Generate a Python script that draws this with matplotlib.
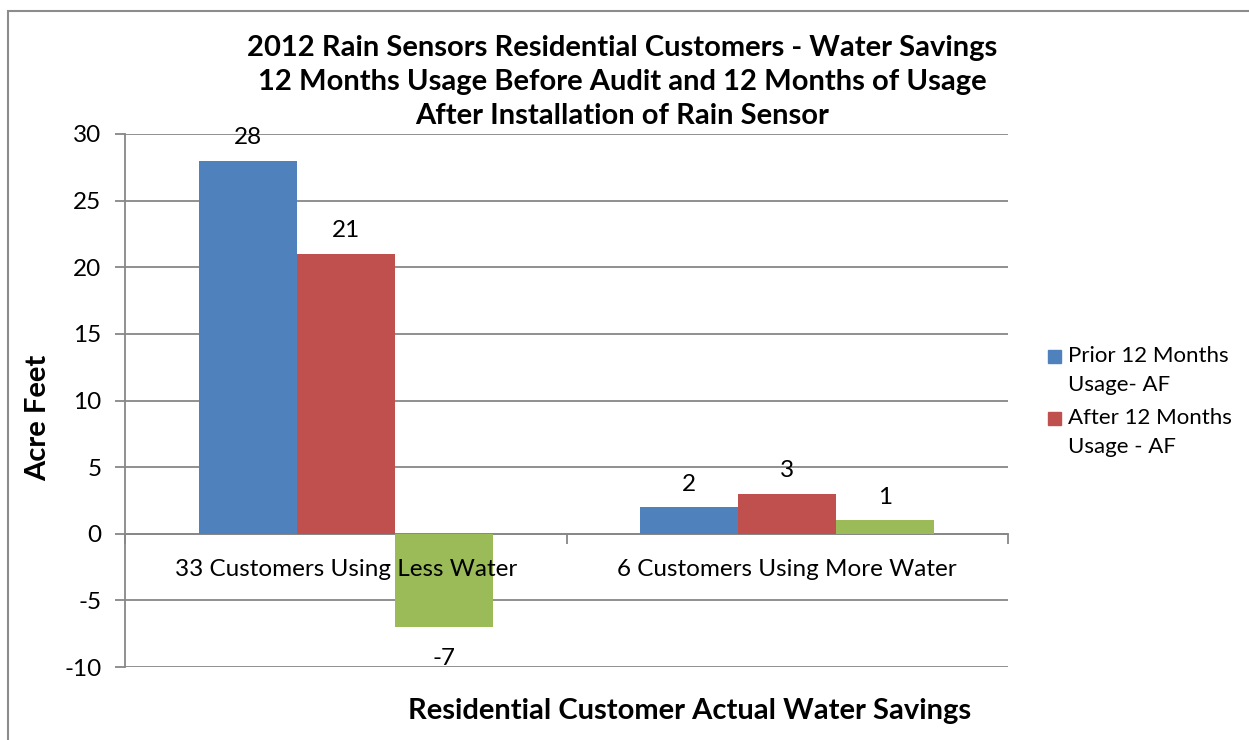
import matplotlib.pyplot as plt
from matplotlib.patches import Rectangle

plt.rcParams['font.family'] = ['Lato', 'DejaVu Sans']

categories = ['33 Customers Using Less Water', '6 Customers Using More Water']
prior_usage = [28, 2]
after_usage = [21, 3]
difference = [-7, 1]
series_names = ['Prior 12 Months\nUsage- AF', 'After 12 Months\nUsage - AF', 'Difference']
colors = ['#4F81BD', '#C0504D', '#9BBB59']
y_ticks = [-10, -5, 0, 5, 10, 15, 20, 25, 30]

W, H = 1249, 740
fig = plt.figure(figsize=(W / 100, H / 100), dpi=100)
ax = fig.add_axes([125 / W, 1 - 667 / H, (1008 - 125) / W, (667 - 134) / H])

# outer chart frame
fig.patches.append(Rectangle((8 / W, -0.05), 1.1, 1 - 11 / H + 0.05, transform=fig.transFigure,
                             fill=False, edgecolor='#8c8c8c', linewidth=1.5))

grid_c = '#878787'
bar_w = 0.222
offsets = [-bar_w, 0, bar_w]
for vals, off, c, name in zip([prior_usage, after_usage, difference], offsets, colors, series_names):
    xs = [i + off for i in range(len(categories))]
    ax.bar(xs, vals, width=bar_w, color=c, label=name, zorder=3)
    for x, v in zip(xs, vals):
        if v >= 0:
            ax.annotate(str(v), (x, v), xytext=(0, 9), textcoords='offset points',
                        ha='center', va='bottom', fontsize=17.5)
        else:
            ax.annotate(str(v), (x, v), xytext=(0, -15), textcoords='offset points',
                        ha='center', va='top', fontsize=17.5)

ax.set_xlim(-0.5, 1.5)
ax.set_ylim(-10, 30)
ax.set_yticks(y_ticks)
ax.set_yticklabels([str(t) for t in y_ticks], fontsize=17.5)
ax.yaxis.grid(True, color=grid_c, linewidth=1.3, zorder=0)
ax.tick_params(axis='y', length=7, width=1.3, color=grid_c, pad=10)

for s in ['top', 'right']:
    ax.spines[s].set_visible(False)
ax.spines['left'].set_color(grid_c)
ax.spines['left'].set_linewidth(1.3)
ax.spines['bottom'].set_position(('data', 0))
ax.spines['bottom'].set_color(grid_c)
ax.spines['bottom'].set_linewidth(1.3)
ax.set_xticks([-0.5, 0.5, 1.5])
ax.set_xticklabels([])
ax.tick_params(axis='x', length=7, width=1.3, color=grid_c)

for i, cat in enumerate(categories):
    ax.annotate(cat, (i, 0), xytext=(0, -26), textcoords='offset points',
                ha='center', va='center', fontsize=17.5, zorder=4)

fig.text(38 / W, 1 - 418 / H, 'Acre Feet', rotation=90,
         ha='center', va='center', fontsize=21, fontweight='bold')
fig.text(690 / W, 1 - 711 / H, 'Residential Customer Actual Water Savings',
         ha='center', va='center', fontsize=21, fontweight='bold')

fig.text(622 / W, 1 - 82 / H,
         '2012 Rain Sensors Residential Customers - Water Savings\n'
         '12 Months Usage Before Audit and 12 Months of Usage\n'
         'After Installation of Rain Sensor',
         ha='center', va='center', fontsize=21, fontweight='bold', linespacing=1.4)

# legend (only the first two series are listed), swatch aligned with first text line
for k, y_px in enumerate([356, 418]):
    fig.patches.append(Rectangle((1048 / W, 1 - (y_px + 6.5) / H), 13 / W, 13 / H,
                                 transform=fig.transFigure, color=colors[k]))
    fig.text(1068 / W, 1 - (y_px - 10) / H, series_names[k], ha='left', va='top',
             fontsize=16, linespacing=1.55)

fig.savefig('out.png', dpi=100)
